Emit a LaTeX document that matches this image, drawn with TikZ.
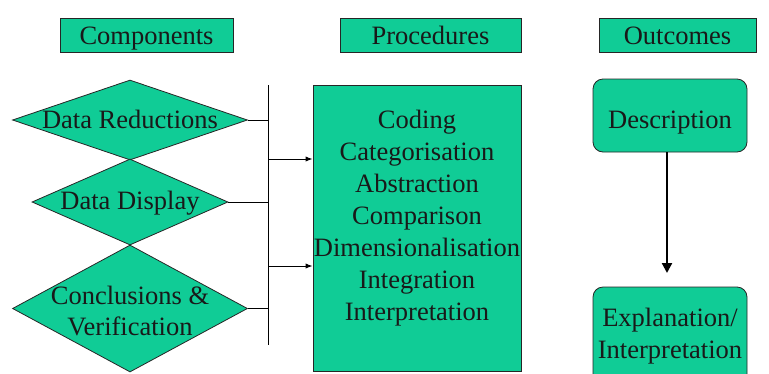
\documentclass[tikz,border=0pt]{standalone}
\usepackage{fontspec}
\setmainfont{Liberation Serif}
\usetikzlibrary{arrows.meta,shapes.geometric}
\definecolor{sea}{RGB}{16,204,150}
\tikzset{
  >=Latex,
  box/.style={draw=black!85, line width=0.8pt, fill=sea, inner sep=0pt},
  dia/.style={draw=black!85, line width=0.8pt, fill=sea, shape=diamond, inner sep=0pt},
  rbox/.style={box, rounded corners=10pt},
  txt/.style={font=\fontsize{26.5}{32}\selectfont, inner sep=0pt, align=center, text=black!90},
  lab/.style={txt, anchor=base},
  link/.style={draw=black, line width=0.9pt},
  bold/.style={draw=black, line width=2.2pt, -{Triangle[width=10pt,length=10pt]}},
}
\begin{document}
\begin{tikzpicture}[x=1pt,y=-1pt]
\useasboundingbox (0,0) rectangle (769,373);
\clip (0,0) rectangle (769,373);
% column headings
\node[box, minimum width=173, minimum height=34] (comp) at (146.5,35) {};
\node[lab] at (146.5,44) {Components};
\node[box, minimum width=181, minimum height=34] (proc) at (430.5,35) {};
\node[lab] at (430.5,44) {Procedures};
\node[box, minimum width=157, minimum height=34] (outc) at (677.5,35) {};
\node[lab] at (677.5,44) {Outcomes};
% components
\node[dia, minimum width=235, minimum height=80] (red) at (130,120) {};
\node[dia, minimum width=196, minimum height=86] (disp) at (130,202) {};
\node[dia, minimum width=235, minimum height=127] (concl) at (130,308.5) {};
\node[lab] at (130,128) {Data Reductions};
\node[lab] at (130,209) {Data Display};
\node[txt] at (130,311) {Conclusions \&\\Verification};
% collecting bar
\coordinate (bartop) at (268,85);
\coordinate (barbot) at (268,345);
\draw[link] (bartop) -- (barbot);
\draw[link] (red.east) -- (red.east -| bartop);
\draw[link] (disp.east) -- (disp.east -| bartop);
\draw[link] (concl.east) -- (concl.east -| bartop);
% procedures
\node[box, minimum width=208, minimum height=286] (steps) at (417,228) {};
\node[txt] at (417,218.5) {Coding\\Categorisation\\Abstraction\\Comparison\\Dimensionalisation\\Integration\\Interpretation};
\coordinate (in1) at (268,159);
\coordinate (in2) at (268,266);
\draw[link, ->] (in1) -- (in1 -| steps.west);
\draw[link, ->] (in2) -- (in2 -| steps.west);
% outcomes
\node[rbox, minimum width=154, minimum height=73] (desc) at (670,115.5) {};
\node[lab] at (670,128) {Description};
\node[rbox, minimum width=154, minimum height=100] (expl) at (670,337) {};
\node[txt] at (670,336.5) {Explanation/\\Interpretation};
\coordinate (tip) at (667,273);
\draw[bold] (desc.south -| tip) -- (tip);
\end{tikzpicture}
\end{document}
